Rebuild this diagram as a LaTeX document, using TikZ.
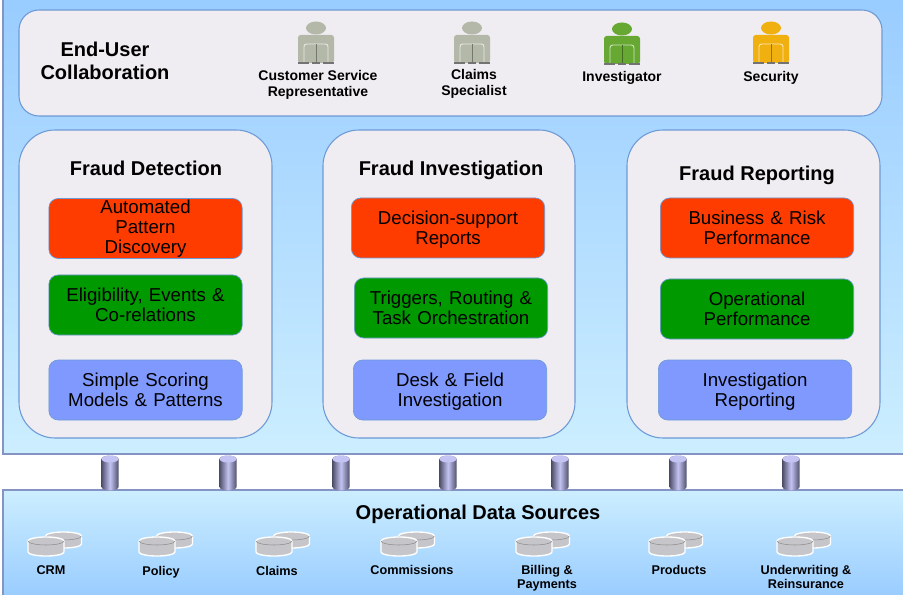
\documentclass[tikz,border=0pt]{standalone}
\usepackage{fontspec}
\setmainfont{Liberation Sans}
\usepackage{xcolor}
\definecolor{SkyDark}{HTML}{99CCFF}
\definecolor{SkyLight}{HTML}{CCEEFF}
\definecolor{FrameLine}{HTML}{8494C4}
\definecolor{CardFill}{HTML}{F0EDF2}
\definecolor{CardLine}{HTML}{6C9AD6}
\definecolor{RedBox}{HTML}{FF3C00}
\definecolor{GreenBox}{HTML}{009900}
\definecolor{BlueBox}{HTML}{8099FF}
\definecolor{PersonGray}{HTML}{B4B8A8}
\definecolor{PersonGreen}{HTML}{66A832}
\definecolor{PersonGold}{HTML}{F0B010}
\definecolor{DiskGray}{HTML}{C6C6CA}
\definecolor{PillarMid}{HTML}{C4C4F4}
\definecolor{PillarDark}{HTML}{50506C}
\newcommand\boxdown{\rule{0pt}{13pt}}
\tikzstyle{frame} = [draw=FrameLine, line width=0.8pt]
\tikzstyle{card} = [draw=CardLine, fill=CardFill, line width=0.8pt]
\tikzstyle{topcard} = [card, rounded corners=15pt]
\tikzstyle{colcard} = [card, rounded corners=27pt]
\tikzstyle{boxstyle} = [rectangle, rounded corners=7pt, draw=CardLine, line width=0.5pt, minimum width=145pt, minimum height=45pt, text width=145pt, align=center, font=\fontsize{14}{15}\selectfont, inner sep=0pt]
\tikzstyle{rb} = [boxstyle, fill=RedBox]
\tikzstyle{gb} = [boxstyle, fill=GreenBox]
\tikzstyle{bb} = [boxstyle, fill=BlueBox]
\tikzstyle{title} = [font=\bfseries\fontsize{15}{17}\selectfont, inner sep=0pt]
\tikzstyle{rolelabel} = [font=\bfseries\fontsize{10.5}{11.5}\selectfont, align=center, inner sep=0pt]
\tikzstyle{sourcelabel} = [font=\bfseries\fontsize{9.5}{10.5}\selectfont, align=center, inner sep=0pt]
\tikzset{
  person/.pic={
    \fill[#1] (0,-35) ellipse (10 and 6.5);
    \fill[#1, rounded corners=2pt] (-18,0) -- (-18,-28) -- (18,-28) -- (18,0) -- cycle;
    \draw[black!55, line width=1pt] (-18,0) -- (-7,0) (-4,0) -- (4,0) (7,0) -- (18,0);
    \draw[white!70!#1, line width=0.7pt, rounded corners=2pt] (-12,-1) -- (-12,-19) -- (12,-19) -- (12,-1);
    \draw[black!35!#1, line width=0.7pt] (0,-1) -- (0,-19);
  },
  disk/.pic={
    \draw[white, fill=DiskGray, line width=1pt] (-9.5,-8) -- (-9.5,0) arc[x radius=18, y radius=4, start angle=180, end angle=0] -- (26.5,-8) arc[x radius=18, y radius=4, start angle=0, end angle=-180] -- cycle;
    \draw[black!45, line width=0.4pt] (-9.5,-8) arc[x radius=18, y radius=4, start angle=180, end angle=0];
    \draw[white, fill=DiskGray, line width=1pt] (-27,-3) -- (-27,8) arc[x radius=18, y radius=4, start angle=180, end angle=0] -- (9,-3) arc[x radius=18, y radius=4, start angle=0, end angle=-180] -- cycle;
    \draw[black!45, line width=0.4pt] (-27,-3) arc[x radius=18, y radius=4, start angle=180, end angle=0];
  },
  pillar/.pic={
    \shade[left color=PillarDark, right color=PillarDark, middle color=PillarMid] (-8.5,-14) -- (-8.5,14) arc[x radius=8.5, y radius=3.5, start angle=180, end angle=0] -- (8.5,-14) arc[x radius=8.5, y radius=3.5, start angle=0, end angle=-180] -- cycle;
    \fill[PillarMid] (0,-14) ellipse (8.5 and 3.5);
  }
}

\begin{document}
\begin{tikzpicture}[x=0.75pt, y=-0.75pt]
\useasboundingbox (0,0) rectangle (903,595);
\draw[frame, top color=SkyDark, bottom color=SkyLight] (3,-2) rectangle (905,454);
\draw[frame, top color=SkyLight, bottom color=SkyDark] (3,490) rectangle (905,597);
\draw[topcard] (19,10) rectangle (882,116);
\draw[colcard] (19,130) rectangle (272,438);
\draw[colcard] (323,130) rectangle (575,438);
\draw[colcard] (627,130) rectangle (880,438);
\node[title, align=center] (collab) at (105,61) {End-User\\Collaboration};
\pic at (316,63) {person=PersonGray};
\pic at (472,63) {person=PersonGray};
\pic at (622,64) {person=PersonGreen};
\pic at (771,63) {person=PersonGold};
\node[rolelabel] (csr) at (318,85) {Customer Service\\Representative};
\node[rolelabel] (claimsp) at (474,84) {Claims\\Specialist};
\node[rolelabel] (inv) at (622,78) {Investigator};
\node[rolelabel] (sec) at (771,78) {Security};
\node[title] (detect) at (146,168) {Fraud Detection};
\node[title] (invest) at (451,170) {Fraud Investigation};
\node[title] (report) at (757,175) {Fraud Reporting};
\node[rb] (apd) at (145.5,228.5) {Automated\\Pattern\\Discovery};
\node[gb] (eec) at (145.5,305) {Eligibility, Events \&\\Co-relations};
\node[bb] (ssm) at (145.5,390) {Simple Scoring\\Models \& Patterns};
\node[rb] (dsr) at (448,228) {\boxdown Decision-support\\Reports};
\node[gb] (tro) at (451,308) {Triggers, Routing \&\\Task Orchestration};
\node[bb] (dfi) at (450,390) {\boxdown Desk \& Field\\Investigation};
\node[rb] (brp) at (757,228) {Business \& Risk\\Performance};
\node[gb] (opf) at (757,309) {Operational\\Performance};
\node[bb] (ire) at (755,390) {\boxdown Investigation\\Reporting};
\foreach \x in {110,228,341,448,560,678,791}
  \pic at (\x,473) {pillar};
\node[title] (ods) at (478,514) {Operational Data Sources};
\pic at (55,544) {disk};
\pic at (166,544) {disk};
\pic at (283,544) {disk};
\pic at (408,544) {disk};
\pic at (543,544) {disk};
\pic at (676,544) {disk};
\pic at (804,544) {disk};
\node[sourcelabel] (crm) at (51,570) {CRM};
\node[sourcelabel] (policy) at (161,572) {Policy};
\node[sourcelabel] (claims) at (277,570.5) {Claims};
\node[sourcelabel] (comm) at (412,570) {Commissions};
\node[sourcelabel] (bill) at (547,578) {Billing \&\\Payments};
\node[sourcelabel] (prod) at (679,570) {Products};
\node[sourcelabel] (under) at (806,577) {Underwriting \&\\Reinsurance};
\end{tikzpicture}
\end{document}
